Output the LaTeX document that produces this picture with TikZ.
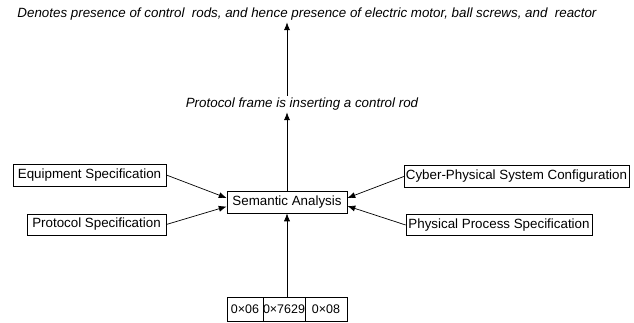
\documentclass[tikz,border=0pt]{standalone}
\usepackage{fontspec}
\setmainfont{Liberation Sans}
\usetikzlibrary{arrows.meta}
\begin{document}
\begin{tikzpicture}[>={Latex[length=4.5pt,width=3.5pt]}, font=\fontsize{7.6}{9}\selectfont]
    \useasboundingbox (0, 0) rectangle (12.68, 6.44);

    \node[style=draw, minimum width=2.4cm, minimum height=0.44cm, inner sep=1pt] (sa) at (5.74, 2.40) {Semantic Analysis};

    \node[style=draw, minimum width=3.06cm, minimum height=0.44cm, inner sep=1pt] (eq) at (1.79, 2.94) {Equipment Specification};
    \node[style=draw, minimum width=2.78cm, minimum height=0.42cm, inner sep=1pt] (pr) at (1.93, 1.95) {Protocol Specification};
    \node[style=draw, minimum width=4.42cm, minimum height=0.44cm, inner sep=1pt] (cp) at (10.33, 2.91) {Cyber-Physical System Configuration};
    \node[style=draw, minimum width=3.72cm, minimum height=0.42cm, inner sep=1pt] (pp) at (9.98, 1.94) {Physical Process Specification};

    \node[style=draw, minimum width=0.72cm, minimum height=0.48cm, inner sep=0pt, font=\fontsize{7.1}{8}\selectfont] (f1) at (4.90, 0.26) {0×06};
    \node[style=draw, minimum width=0.84cm, minimum height=0.48cm, inner sep=0pt, font=\fontsize{7.1}{8}\selectfont] (f2) at (5.68, 0.26) {0×7629};
    \node[style=draw, minimum width=0.84cm, minimum height=0.48cm, inner sep=0pt, font=\fontsize{7.1}{8}\selectfont] (f3) at (6.52, 0.26) {0×08};

    \node[inner sep=1pt, font=\fontsize{7.6}{9}\selectfont\itshape] (mid) at (6.04, 4.36) {Protocol frame is inserting a control rod};
    \node[inner sep=1pt, font=\fontsize{7.6}{9}\selectfont\itshape] (top) at (6.14, 6.16) {Denotes presence of control\ \ rods, and hence presence of electric motor, ball screws, and\ \ reactor};

    \draw[->] (eq.east) -- ([yshift=0.08cm]sa.west);
    \draw[->] (pr.east) -- ([yshift=-0.09cm]sa.west);
    \draw[->] (cp.west) -- ([yshift=0.08cm]sa.east);
    \draw[->] (pp.west) -- ([yshift=-0.08cm]sa.east);

    \draw[->] (sa.south |- f2.north) -- (sa.south);
    \draw[->] (sa.north) -- (sa.north |- mid.south);
    \draw[->] (sa.north |- mid.north) -- (sa.north |- top.south);
\end{tikzpicture}
\end{document}
